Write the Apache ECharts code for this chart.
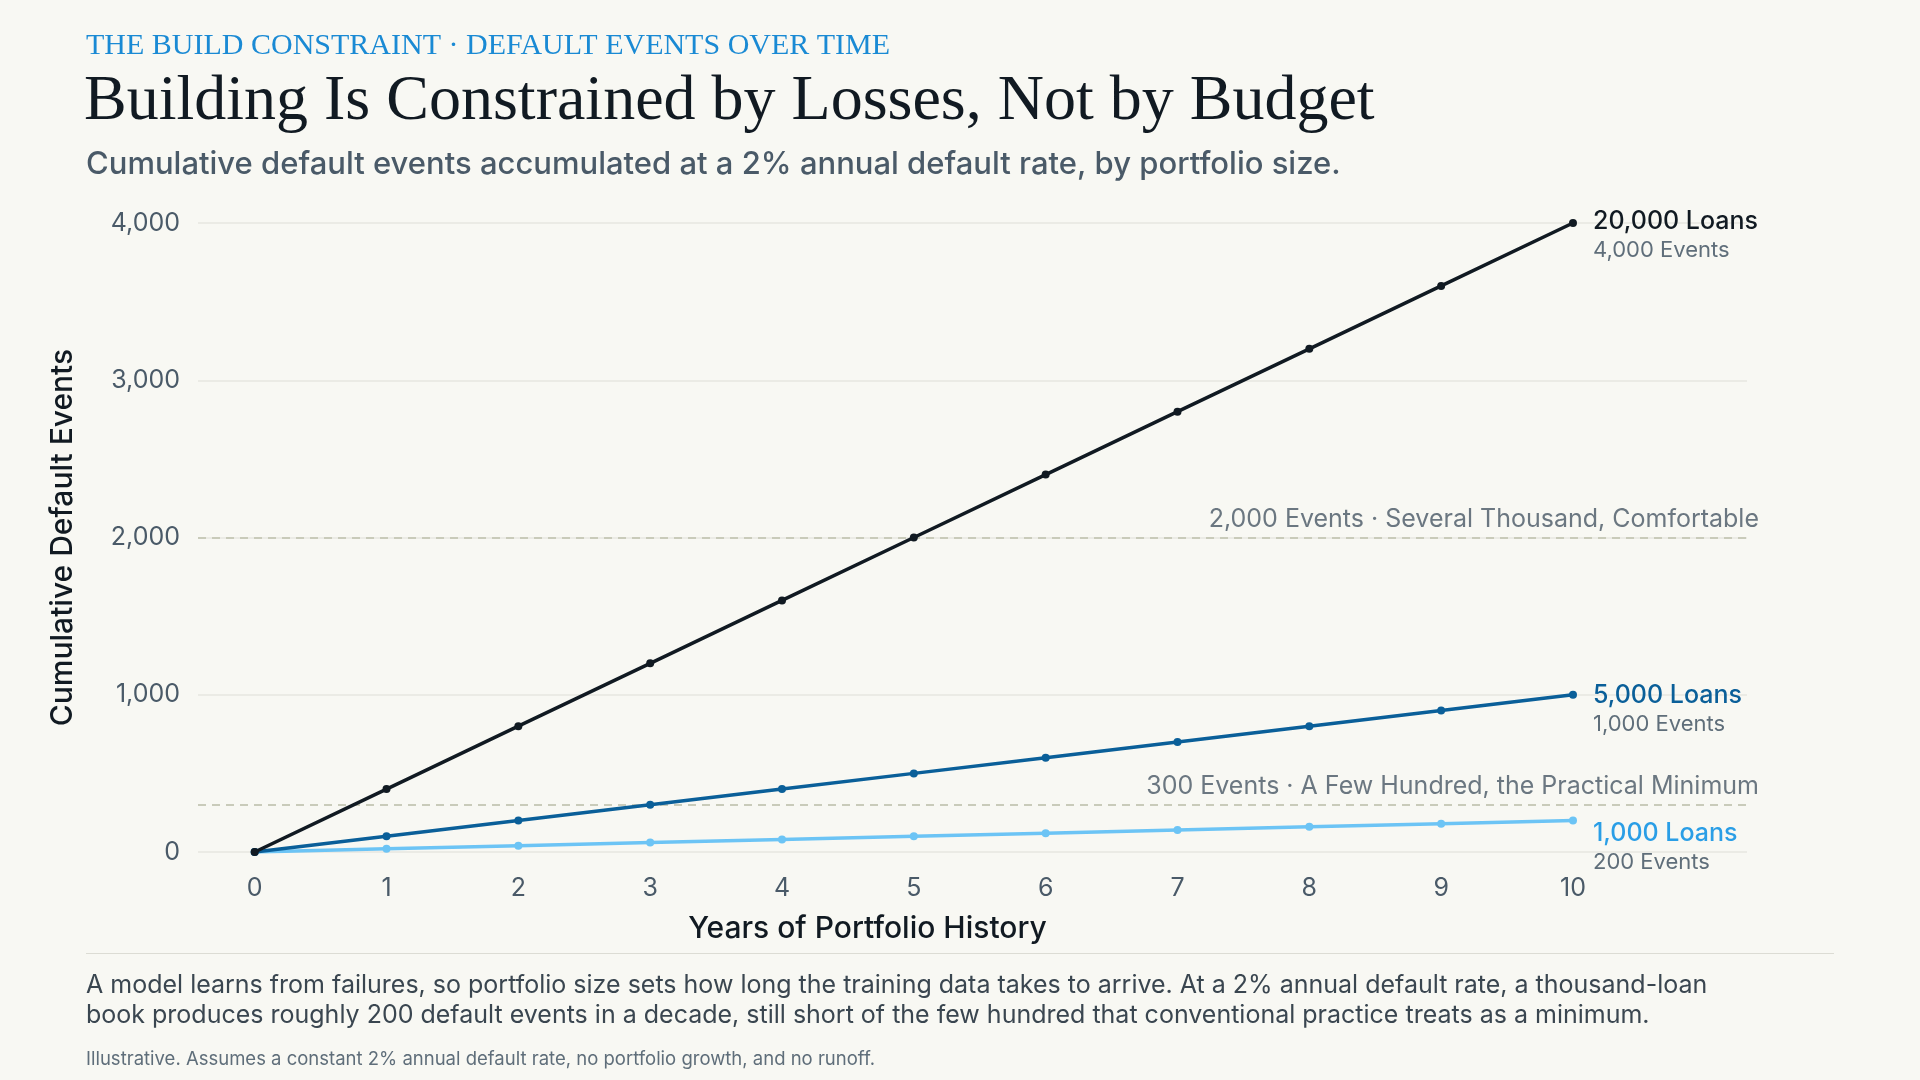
<!DOCTYPE html>
<html><head><meta charset="utf-8">
<script src="https://cdn.jsdelivr.net/npm/echarts@6/dist/echarts.min.js"></script>
<style>html,body{margin:0;padding:0;background:#f8f8f3;}#c{width:1920px;height:1080px;}</style>
</head><body><div id="c"></div>
<script>
const years = [0,1,2,3,4,5,6,7,8,9,10];
const loans20000 = [0,400,800,1200,1600,2000,2400,2800,3200,3600,4000];
const loans5000 = [0,100,200,300,400,500,600,700,800,900,1000];
const loans1000 = [0,20,40,60,80,100,120,140,160,180,200];
const seriesNames = ['20,000 Loans','5,000 Loans','1,000 Loans'];
const endEvents = ['4,000 Events','1,000 Events','200 Events'];
const colors = ['#111a22','#0a5f99','#6cc4f5'];
const refValues = [2000,300];
const refLabels = ['2,000 Events · Several Thousand, Comfortable','300 Events · A Few Hundred, the Practical Minimum'];
const sans = 'Inter, "Noto Sans", sans-serif';
const serif = '"Liberation Serif", "DejaVu Serif", serif';

const chart = echarts.init(document.getElementById('c'));
const all = [loans20000, loans5000, loans1000];
const offsets = [[0,-16],[0,-14],[0,-2]];
const series = all.map((d,i)=>({
  type:'line', name:seriesNames[i], data:d.map((v,j)=>[years[j],v]),
  symbol:'circle', symbolSize:8, lineStyle:{width:3.5,color:colors[i]}, itemStyle:{color:colors[i]},
  z: 10-i,
  endLabel:{show:true, distance:20, formatter:()=>'{a|'+seriesNames[i]+'}\n{b|'+endEvents[i]+'}',
    rich:{a:{fontFamily:sans,fontSize:25,fontWeight:500,color:colors[i]==='#6cc4f5'?'#2a9ee6':colors[i],lineHeight:29},
          b:{fontFamily:sans,fontSize:22,color:'#5f6e7a',lineHeight:29}}, align:'left', verticalAlign:'top', offset:offsets[i]}
}));
series[0].markLine = {silent:true, symbol:'none',
  data: refValues.map((v,i)=>({yAxis:v, label:{formatter:refLabels[i]}})),
  lineStyle:{type:[8,6],color:'#c9cbba',width:2},
  label:{position:'insideEndTop',fontFamily:sans,fontSize:25,color:'#6b7781',distance:[-12,6]}};

chart.setOption({
  backgroundColor:'#f8f8f3',
  animation:false,
  grid:{left:198,right:173,top:223,bottom:228},
  xAxis:{type:'value',min:-0.43,max:11.32,
    axisLine:{show:false},axisTick:{show:false},splitLine:{show:false},
    axisLabel:{customValues:years,fontFamily:sans,fontSize:25,color:'#4a5a68',margin:24},
    name:'Years of Portfolio History',nameLocation:'middle',nameGap:62,
    nameTextStyle:{fontFamily:sans,fontSize:30,fontWeight:500,color:'#111a22',padding:[0,0,0,-210]}},
  yAxis:{type:'value',min:0,max:4000,interval:1000,
    axisLine:{show:false},axisTick:{show:false},
    splitLine:{lineStyle:{color:'#e7e7e0',width:1.5}},
    axisLabel:{fontFamily:sans,fontSize:25,color:'#4a5a68',margin:18,formatter:v=>v.toLocaleString('en-US')},
    name:'Cumulative Default Events',nameLocation:'middle',nameGap:120,
    nameTextStyle:{fontFamily:sans,fontSize:30,fontWeight:500,color:'#111a22'}},
  series:series,
  graphic:[
    {type:'text',left:86,top:31,style:{text:'THE BUILD CONSTRAINT · DEFAULT EVENTS OVER TIME',font:'30px '+serif,fill:'#1a8ad4',letterSpacing:6.6}},
    {type:'text',left:84,top:70,style:{text:'Building Is Constrained by Losses, Not by Budget',font:'64px '+serif,fill:'#111a22',letterSpacing:-0.8}},
    {type:'text',left:86,top:149,style:{text:'Cumulative default events accumulated at a 2% annual default rate, by portfolio size.',font:'500 31px '+sans,fill:'#4a5a68'}},
    {type:'rect',shape:{x:86,y:953,width:1748,height:1},style:{fill:'#dcdcd4'}},
    {type:'text',left:86,top:970,style:{text:'A model learns from failures, so portfolio size sets how long the training data takes to arrive. At a 2% annual default rate, a thousand-loan\nbook produces roughly 200 default events in a decade, still short of the few hundred that conventional practice treats as a minimum.',font:'25px '+sans,fill:'#3a4650',lineHeight:30}},
    {type:'text',left:86,top:1050,style:{text:'Illustrative. Assumes a constant 2% annual default rate, no portfolio growth, and no runoff.',font:'18.5px '+sans,fill:'#5f6e7a'}}
  ]
});
</script></body></html>
